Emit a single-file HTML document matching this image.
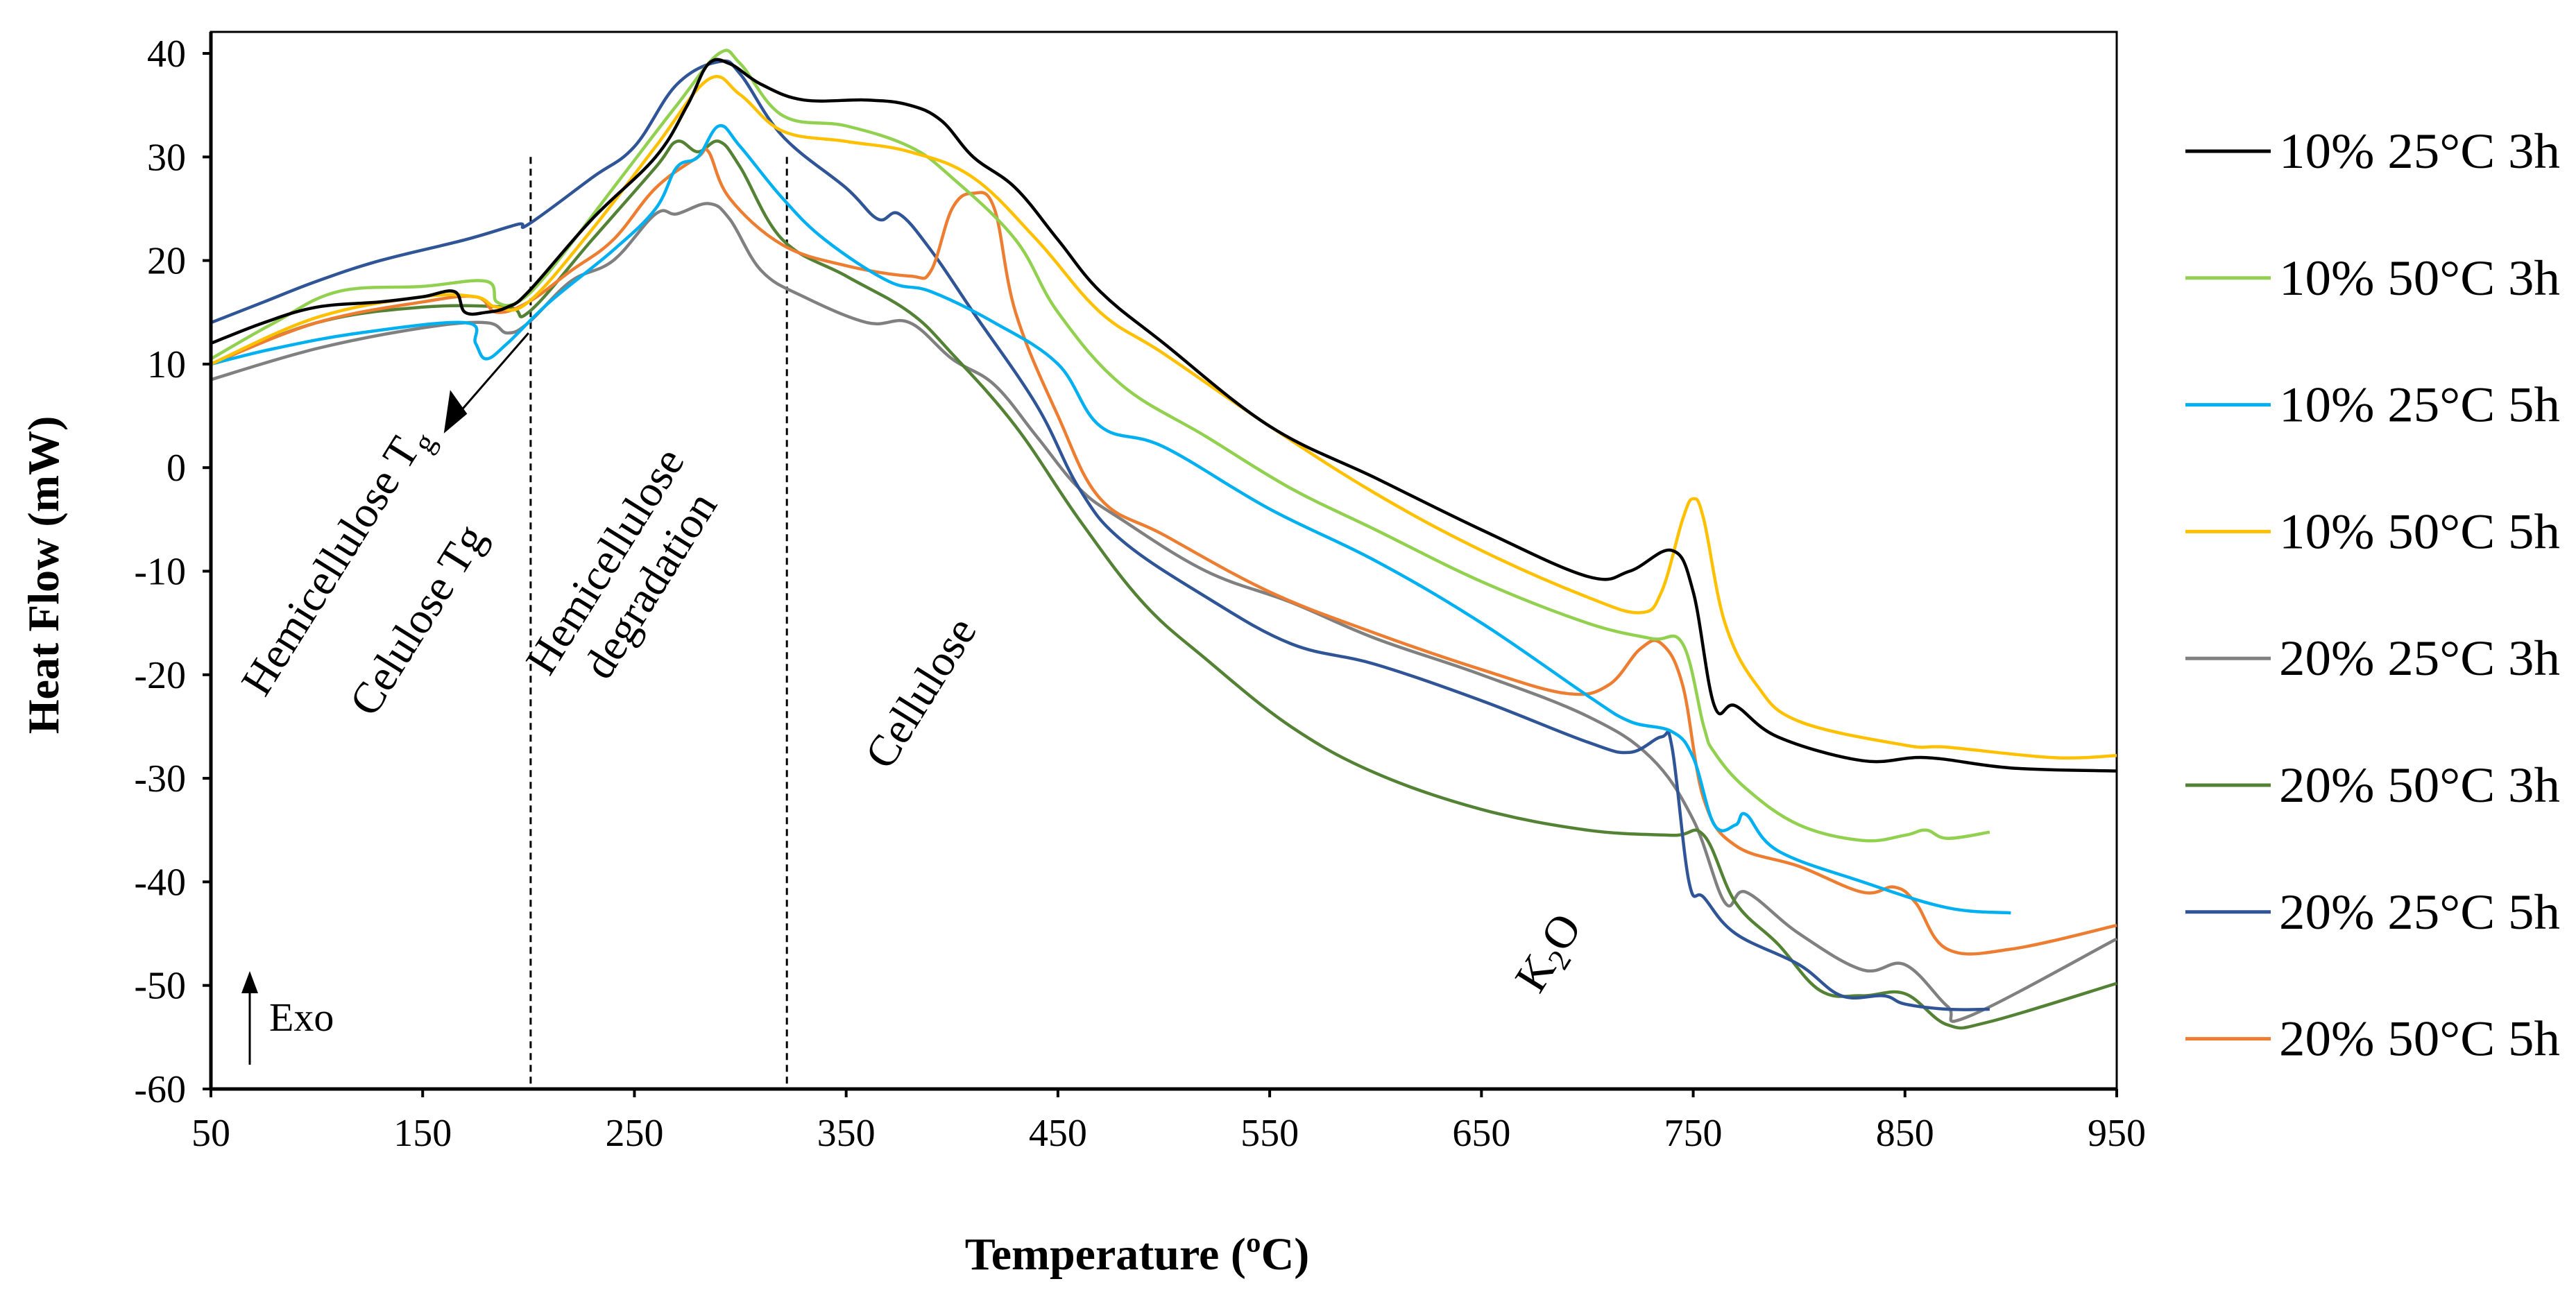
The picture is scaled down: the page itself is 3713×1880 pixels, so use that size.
<!DOCTYPE html>
<html><head><meta charset="utf-8"><style>
html,body{margin:0;padding:0;background:#fff}
svg{display:block}
text{font-family:"Liberation Serif",serif;fill:#000}
</style></head><body>
<svg id="chart" width="3713" height="1880" viewBox="0 0 3713 1880" xmlns="http://www.w3.org/2000/svg">
<g id="grid"></g>
<g id="series"></g>
<g id="axes"></g>
<g id="legend"></g>
<g id="annot">
  <text transform="translate(500,818) rotate(-58)" font-size="64" text-anchor="middle">Hemicellulose T<tspan font-size="44" dy="14">g</tspan></text>
  <text transform="translate(620,905) rotate(-58)" font-size="64" text-anchor="middle">Celulose Tg</text>
  <text transform="translate(890,820) rotate(-58)" font-size="64" text-anchor="middle">Hemicellulose</text>
  <text transform="translate(955,855) rotate(-58)" font-size="64" text-anchor="middle">degradation</text>
  <text transform="translate(1345,1010) rotate(-58)" font-size="64" text-anchor="middle">Cellulose</text>
  <text transform="translate(2250,1385) rotate(-58)" font-size="66" text-anchor="middle">K<tspan font-size="44" dy="12">2</tspan><tspan dy="-12">O</tspan></text>
  <line x1="360" y1="1535" x2="360" y2="1420" stroke="#000" stroke-width="3"/>
  <polygon points="360,1400 348,1432 372,1432" fill="#000"/>
  <text x="388" y="1486" font-size="58">Exo</text>
</g>
</svg>
<script>
const NS="http://www.w3.org/2000/svg";
const xTicks=[50,150,250,350,450,550,650,750,850,950];
const yTicks=[40,30,20,10,0,-10,-20,-30,-40,-50,-60];
const seriesNames=["10% 25°C 3h","10% 50°C 3h","10% 25°C 5h","10% 50°C 5h","20% 25°C 3h","20% 50°C 3h","20% 25°C 5h","20% 50°C 5h"];
const seriesColors=["#000000","#92d050","#00b0f0","#ffc000","#808080","#548235","#2f5597","#ed7d31"];
const s1T=[50,75,100,130,150,165,170,180,190,200,230,260,275,285,295,310,330,360,380,395,410,430,450,470,500,550,600,650,700,720,740,750,760,770,790,830,860,900,950];
const s1V=[12,14,15.5,16,16.5,17,15,15,15.5,17,24,30,35,39,39,37,35.5,35.5,35,33.5,30,27,22,17,12,4,-1,-6,-10.5,-10,-8,-12,-23,-23,-26,-28.3,-28,-29,-29.3];
const s2T=[50,80,110,150,180,185,195,210,240,270,290,300,320,350,380,400,430,450,480,520,560,600,650,700,730,745,755,760,775,800,830,850,860,870,890];
const s2V=[10.5,14,17,17.5,18,16,16,19,27,35,40,39,34,33,31,28,22,15,8,3,-2,-6,-11,-15,-16.5,-17,-25,-27.5,-31,-34.5,-36,-35.5,-35,-35.8,-35.2];
const s3T=[50,80,120,170,175,180,190,210,240,260,270,280,290,300,320,340,370,390,420,450,470,500,550,600,650,700,720,740,750,760,770,775,790,830,870,900];
const s3V=[10,11.5,13,14,12,10.5,12,16,21,25,29,30,33,31,26,22,18,17,14,10,4,2,-4,-9,-15,-22,-24.5,-25.5,-28,-34.5,-34.5,-33.5,-37,-40,-42.5,-43];
const s4T=[50,100,150,175,185,200,230,260,285,300,320,350,380,410,440,470,500,550,600,650,700,725,735,745,750,755,765,780,800,850,870,920,950];
const s4V=[10,14.5,16.5,16.5,15.5,16,23,31,37.5,36,32.5,31.5,30.5,28,22,15,11,4,-2.5,-8,-12.5,-14,-12,-5,-3,-5,-15,-21,-24.5,-26.8,-27,-28,-27.8];
const s5T=[50,100,150,180,190,200,220,240,260,270,285,295,310,330,360,380,400,420,440,460,480,520,560,600,650,700,730,750,765,775,800,830,850,870,880,950];
const s5V=[8.5,11.5,13.5,14,13,14,18,20,24.5,24.5,25.5,24,19,16.5,14,14,10.5,8,3,-2,-5,-10,-13,-16.5,-20,-24,-28,-34,-42,-41,-45,-48.5,-48,-52,-53,-45.5];
const s6T=[50,100,150,190,200,230,260,270,280,290,300,320,350,380,400,430,460,490,520,560,600,650,700,740,755,770,790,810,830,850,870,890,950];
const s6V=[10,14,15.5,15.5,15,22,29,31.5,30.5,31.5,29,22,18.5,15,11,4,-5,-13,-18.5,-25,-29.5,-33,-35,-35.5,-35.5,-42,-46,-50.5,-51,-50.8,-53.8,-53.5,-49.8];
const s7T=[50,75,100,130,170,195,200,230,250,270,290,300,320,350,365,375,390,410,440,460,480,520,560,600,650,700,720,735,740,748,755,770,800,820,840,850,870,890];
const s7V=[14,16,18,20,22,23.5,23.5,28,31,37,39.2,38,32,27,24,24.5,21,15,6,-2,-7,-12.5,-17,-19,-22.5,-26.5,-27.5,-26,-27,-40,-41.5,-45,-48,-51,-51,-51.8,-52.3,-52.3];
const s8T=[50,100,150,175,185,200,220,240,260,280,285,295,320,350,380,390,400,410,420,430,450,470,500,550,600,650,690,710,725,735,745,755,770,800,830,845,855,870,900,950];
const s8V=[10,14,16,16.5,15,16,19,22,27,30,30.5,26,21.5,19.5,18.5,19,25,26.5,25,15,5,-3,-6.5,-12,-16,-19.5,-21.8,-21,-17.5,-17,-21,-32,-36.5,-38.5,-41,-40.5,-42,-46.5,-46.5,-44.2];
const allT=[s1T,s2T,s3T,s4T,s5T,s6T,s7T,s8T];
const allV=[s1V,s2V,s3V,s4V,s5V,s6V,s7V,s8V];
const dashedAt=[201,322];

const X0=304,X1=3051,Y0=77,Y1=1570,TOP=46;
function xs(t){return X0+(t-50)/(950-50)*(X1-X0);}
function ys(v){return Y0+(40-v)/(40-(-60))*(Y1-Y0);}
function mk(tag,attrs,parent){const e=document.createElementNS(NS,tag);for(const k in attrs)e.setAttribute(k,attrs[k]);parent.appendChild(e);return e;}
function smooth(pts){
  let d='M'+pts[0][0].toFixed(1)+','+pts[0][1].toFixed(1);
  const k=0.18;
  for(let i=0;i<pts.length-1;i++){
    const p0=pts[Math.max(i-1,0)],p1=pts[i],p2=pts[i+1],p3=pts[Math.min(i+2,pts.length-1)];
    const c1=[p1[0]+(p2[0]-p0[0])*k,p1[1]+(p2[1]-p0[1])*k];
    const c2=[p2[0]-(p3[0]-p1[0])*k,p2[1]-(p3[1]-p1[1])*k];
    d+=' C'+c1[0].toFixed(1)+','+c1[1].toFixed(1)+' '+c2[0].toFixed(1)+','+c2[1].toFixed(1)+' '+p2[0].toFixed(1)+','+p2[1].toFixed(1);
  }
  return d;
}

const axes=document.getElementById('axes');
const grid=document.getElementById('grid');
const ser=document.getElementById('series');
const leg=document.getElementById('legend');
const annot=document.getElementById('annot');

const frame=mk('rect',{x:X0,y:TOP,width:X1-X0,height:Y1-TOP,fill:'none',stroke:'#000','stroke-width':3},grid);


const bax=mk('line',{x1:X0,y1:Y1,x2:X1,y2:Y1,stroke:'#000','stroke-width':5},axes);


const lax=mk('line',{x1:X0,y1:TOP,x2:X0,y2:Y1,stroke:'#000','stroke-width':5},axes);



xTicks.forEach(t=>{
  const l=mk('line',{x1:xs(t),y1:Y1,x2:xs(t),y2:Y1+12,stroke:'#000','stroke-width':4},axes);
  
  
  const tx=mk('text',{x:xs(t),y:Y1+82,'font-size':56,'text-anchor':'middle'},axes);
  tx.textContent=t;
  
  
});
yTicks.forEach(v=>{
  const l=mk('line',{x1:X0-12,y1:ys(v),x2:X0,y2:ys(v),stroke:'#000','stroke-width':4},axes);
  
  
  const tx=mk('text',{x:X0-36,y:ys(v)+19,'font-size':56,'text-anchor':'end'},axes);
  tx.textContent=v<0?('-'+Math.abs(v)):v;
  
  
});
const yt=mk('text',{transform:'translate(84,829) rotate(-90)','font-size':64,'font-weight':'bold','text-anchor':'middle'},axes);
yt.textContent='Heat Flow (mW)';


const xt=mk('text',{x:1639,y:1830,'font-size':66,'font-weight':'bold','text-anchor':'middle'},axes);
xt.textContent='Temperature (ºC)';



dashedAt.forEach(t=>{
  const l=mk('line',{x1:xs(t),y1:ys(30),x2:xs(t),y2:Y1,stroke:'#000','stroke-width':3,'stroke-dasharray':'10,7'},grid);
  
  
});

const al=mk('line',{x1:xs(200),y1:ys(13),x2:xs(166),y2:ys(5),stroke:'#000','stroke-width':3},annot);


const ah=mk('polygon',{points:`${xs(160)},${ys(3.3)} ${xs(163)},${ys(7.5)} ${xs(171)},${ys(5.2)}`,fill:'#000'},annot);



const order=[4,5,6,7,2,1,3,0];
order.forEach(i=>{
  const pts=allT[i].map((t,j)=>[xs(t),ys(allV[i][j])]);
  const p=mk('path',{d:smooth(pts),fill:'none',stroke:seriesColors[i],'stroke-width':4.5,'stroke-linejoin':'round'},ser);
  
  
});

seriesNames.forEach((n,i)=>{
  const y=218+i*182.8;
  const g=mk('g',{},leg);
  
  
  mk('line',{x1:3150,y1:y,x2:3273,y2:y,stroke:seriesColors[i],'stroke-width':5},g);
  const t=mk('text',{x:3285,y:y+24,'font-size':72,textLength:405,lengthAdjust:'spacingAndGlyphs'},g);
  t.textContent=n;
});
</script>
</body></html>
